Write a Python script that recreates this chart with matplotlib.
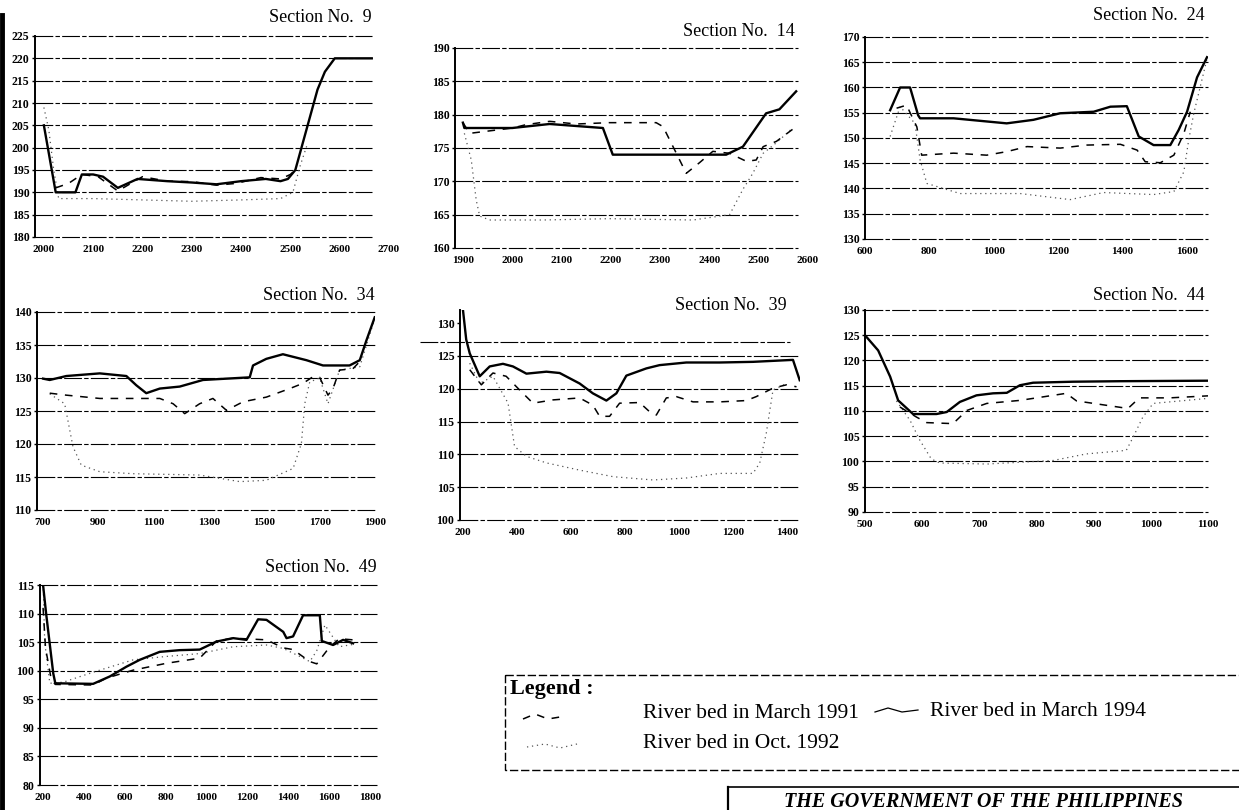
import matplotlib
matplotlib.use("Agg")
import matplotlib.pyplot as plt
from matplotlib.patches import Rectangle

plt.rcParams['font.family'] = ['Liberation Serif', 'DejaVu Serif']

# ---- data (distance, elevation) ----
# Section 9
s9_x_93 = [2000, 2024, 2064, 2077, 2100, 2120, 2150, 2190, 2250, 2300, 2350, 2400, 2450, 2480, 2495, 2510, 2525, 2540, 2555, 2570, 2590, 2665]
s9_y_93 = [205, 190, 190, 194, 194, 193.5, 191, 193, 192.5, 192.2, 191.8, 192.5, 193, 192.5, 193, 195, 201, 207, 213, 217, 220, 220]
s9_x_91 = [2024, 2050, 2077, 2110, 2150, 2200, 2250, 2300, 2350, 2390, 2440, 2480, 2500, 2510]
s9_y_91 = [191, 192, 194, 193.5, 190.3, 193.5, 192.5, 192.4, 191.6, 192, 193.3, 193, 194, 195]
s9_x_92 = [2000, 2010, 2020, 2030, 2100, 2200, 2300, 2400, 2480, 2505, 2520, 2535]
s9_y_92 = [209, 204, 195, 188.6, 188.6, 188.3, 188, 188.3, 188.6, 190, 196, 201]

# Section 14
s14_x_93 = [1900, 1903, 2000, 2076, 2184, 2204, 2326, 2434, 2468, 2515, 2542, 2576]
s14_y_93 = [178.8, 178, 178, 178.6, 178, 174, 174, 174, 175.2, 180.2, 180.8, 183.5]
s14_x_91 = [1900, 1914, 2001, 2028, 2076, 2130, 2197, 2292, 2306, 2333, 2353, 2380, 2407, 2441, 2475, 2495, 2509, 2536, 2576]
s14_y_91 = [178.8, 177.2, 178, 178.5, 179, 178.6, 178.8, 178.8, 178.2, 174.2, 171.2, 172.8, 174.5, 174.2, 173, 173.2, 175.2, 176, 178.2]
s14_x_92 = [1903, 1917, 1927, 1934, 1954, 2062, 2197, 2367, 2441, 2468, 2488, 2509, 2536, 2569]
s14_y_92 = [177.2, 173.2, 167.2, 164.8, 164.2, 164.2, 164.4, 164.2, 165, 168.8, 171.2, 174.2, 175.8, 178]

# Section 24
s24_x_93 = [678, 709, 740, 765, 771, 875, 1040, 1123, 1206, 1310, 1362, 1413, 1450, 1496, 1548, 1574, 1600, 1631, 1662]
s24_y_93 = [155.5, 160, 160, 154.5, 153.9, 153.9, 152.9, 153.6, 154.9, 155.2, 156.2, 156.3, 150.3, 148.6, 148.6, 151.6, 155.2, 162, 166]
s24_x_91 = [698, 729, 761, 776, 875, 978, 1040, 1103, 1206, 1289, 1393, 1445, 1470, 1517, 1559, 1590, 1610]
s24_y_91 = [155.9, 156.5, 152.2, 146.6, 147, 146.6, 147.3, 148.3, 148, 148.6, 148.75, 147.6, 145.3, 145.1, 146.6, 150.9, 155.2]
s24_x_92 = [678, 709, 755, 771, 792, 895, 1082, 1237, 1341, 1496, 1559, 1590, 1605, 1621, 1662]
s24_y_92 = [150.3, 156.2, 152.9, 145.7, 141, 139, 139, 137.8, 139.2, 138.8, 139.4, 143.3, 149.6, 154.9, 165.7]

# Section 34
s34_x_93 = [700, 724, 784, 905, 1001, 1037, 1073, 1122, 1194, 1278, 1447, 1459, 1507, 1567, 1652, 1712, 1808, 1845, 1869, 1899]
s34_y_93 = [129.9, 129.7, 130.3, 130.7, 130.3, 128.9, 127.7, 128.4, 128.7, 129.7, 130.1, 131.9, 132.9, 133.6, 132.7, 131.9, 131.9, 132.7, 135.7, 139.2]
s34_x_91 = [724, 784, 905, 1122, 1170, 1212, 1266, 1314, 1363, 1423, 1507, 1592, 1640, 1676, 1700, 1730, 1748, 1772, 1820, 1845]
s34_y_91 = [127.7, 127.4, 126.9, 126.9, 126.1, 124.6, 126.1, 126.9, 125.1, 126.4, 127.1, 128.4, 129.2, 130.2, 130.1, 127.4, 128.4, 131.2, 131.4, 132.5]
s34_x_92 = [724, 778, 808, 838, 905, 1025, 1266, 1411, 1507, 1604, 1634, 1646, 1664, 1700, 1730, 1772, 1845, 1899]
s34_y_92 = [127.6, 126.1, 119.6, 116.8, 115.8, 115.5, 115.3, 114.3, 114.5, 116.3, 120.1, 126.1, 129.4, 130, 126.1, 131.2, 131.7, 139]

# Section 39
s39_x_93 = [200, 212, 225, 262, 299, 348, 385, 435, 509, 558, 632, 681, 731, 768, 805, 879, 928, 1027, 1151, 1274, 1422, 1447]
s39_y_93 = [132, 127.5, 125.4, 121.9, 123.4, 123.8, 123.4, 122.3, 122.6, 122.4, 120.8, 119.3, 118.2, 119.3, 122, 123.1, 123.6, 124, 124, 124.1, 124.4, 121.3]
s39_x_91 = [225, 268, 311, 360, 410, 459, 533, 632, 681, 706, 743, 780, 854, 891, 916, 953, 990, 1052, 1151, 1249, 1286, 1348, 1398, 1435]
s39_y_91 = [122.9, 120.6, 122.4, 121.9, 119.8, 117.8, 118.3, 118.6, 117.5, 115.8, 115.8, 117.8, 117.9, 116.5, 116, 118.6, 118.8, 118, 118, 118.2, 118.8, 120.1, 120.6, 120.3]
s39_x_92 = [225, 262, 311, 367, 391, 435, 509, 632, 756, 904, 1027, 1151, 1274, 1299, 1323, 1348, 1398]
s39_y_92 = [123.9, 120.8, 121.9, 117.8, 111.2, 109.7, 108.7, 107.6, 106.6, 106.1, 106.4, 107.1, 107.1, 108.7, 113.2, 119.8, 120.8]

# Section 44
s44_x_93 = [500, 523, 544, 558, 584, 625, 643, 666, 695, 724, 748, 771, 794, 864, 946, 1100]
s44_y_93 = [125, 122, 116.8, 112.1, 109.4, 109.4, 109.8, 111.8, 113.1, 113.5, 113.6, 115.1, 115.6, 115.8, 115.9, 116]
s44_x_91 = [561, 590, 608, 654, 678, 713, 771, 829, 852, 870, 960, 980, 1033, 1100]
s44_y_91 = [110.8, 108.8, 107.7, 107.5, 110.1, 111.5, 112.1, 113.1, 113.5, 112, 110.5, 112.6, 112.6, 113]
s44_x_92 = [555, 579, 596, 616, 631, 713, 829, 887, 957, 969, 986, 1004, 1100]
s44_y_92 = [112, 108.1, 104.2, 100.5, 99.7, 99.5, 100.2, 101.5, 102.2, 104.8, 108.8, 111.5, 112.5]

# Section 49
s49_x_93 = [200, 215, 235, 250, 260, 445, 527, 608, 673, 771, 869, 967, 1049, 1131, 1196, 1253, 1294, 1376, 1392, 1424, 1473, 1555, 1565, 1620, 1669, 1718]
s49_y_93 = [115, 110, 104, 99.5, 97.8, 97.7, 99, 100.7, 101.9, 103.3, 103.6, 103.7, 105.1, 105.7, 105.4, 109, 108.9, 106.8, 105.7, 106, 109.7, 109.7, 105.2, 104.5, 105.4, 104.8]
s49_x_91 = [200, 212, 240, 260, 445, 510, 641, 804, 967, 1049, 1131, 1294, 1376, 1424, 1506, 1540, 1600, 1650, 1718]
s49_y_91 = [111, 104, 98.5, 97.6, 97.5, 98.7, 100.1, 101.3, 102.2, 105.2, 105.7, 105.4, 104, 103.7, 101.6, 101.2, 104, 105.6, 105.4]
s49_x_92 = [200, 208, 233, 300, 400, 478, 641, 804, 967, 1131, 1294, 1376, 1457, 1506, 1540, 1580, 1650, 1718]
s49_y_92 = [116, 105, 97.8, 98, 99.2, 100.1, 101.9, 102.5, 103, 104.2, 104.5, 103.9, 102.5, 101.6, 103.5, 108, 104.2, 104.6]

legend_labels = ["River bed in March 1991", "River bed in March 1994", "River bed in Oct. 1992"]

W, H = 1239, 810
fig = plt.figure(figsize=(W / 100, H / 100), dpi=100)
fig.patch.set_facecolor('white')

# full-page overlay in pixel units for the page furniture
bg = fig.add_axes([0, 0, 1, 1])
bg.set_xlim(0, W)
bg.set_ylim(H, 0)
bg.axis('off')

grid_style = dict(color='black', lw=0.8, linestyle=(0, (16, 2, 4, 2)))
st_93 = dict(color='black', lw=1.7, linestyle='-')
st_91 = dict(color='black', lw=1.1, linestyle=(0, (5, 5)))
st_92 = dict(color='#555555', lw=0.9, linestyle=(0, (1, 3)))


def panel(px, xlim, ylim, xticks, yticks, gridvals, grid_end, title, tpos, series):
    left, top, right, bottom = px
    ax = fig.add_axes([left / W, 1 - bottom / H, (right - left) / W, (bottom - top) / H])
    ax.set_xlim(*xlim)
    ax.set_ylim(*ylim)
    ax.patch.set_alpha(0)
    for s in ['top', 'right', 'bottom']:
        ax.spines[s].set_visible(False)
    ax.spines['left'].set_linewidth(1.4)
    ax.hlines(gridvals, xlim[0], grid_end, clip_on=False, **grid_style)
    for x, y, st in series:
        ax.plot(x, y, **st)
    ax.set_xticks(xticks)
    ax.set_yticks(yticks)
    ax.tick_params(axis='x', length=0, pad=6, labelsize=8)
    ax.tick_params(axis='y', length=2, width=1, pad=2, labelsize=8.5)
    for lab in ax.get_xticklabels() + ax.get_yticklabels():
        lab.set_fontweight('bold')
    bg.text(tpos[0], tpos[1], title, ha='right', va='center', fontsize=13)
    return ax


panel((35, 36, 389, 237), (1982, 2700), (180, 225), range(2000, 2701, 100), range(180, 226, 5),
      range(180, 226, 5), 2665, "Section No.  9", (372, 17),
      [(s9_x_92, s9_y_92, st_92), (s9_x_91, s9_y_91, st_91), (s9_x_93, s9_y_93, st_93)])
panel((455, 48, 808, 248), (1884, 2600), (160, 190), range(1900, 2601, 100), range(160, 191, 5),
      range(160, 191, 5), 2580, "Section No.  14", (795, 31),
      [(s14_x_92, s14_y_92, st_92), (s14_x_91, s14_y_91, st_91), (s14_x_93, s14_y_93, st_93)])
panel((865, 37, 1208, 239), (600, 1665), (130, 170), range(600, 1601, 200), range(130, 171, 5),
      range(130, 171, 5), 1665, "Section No.  24", (1205, 16),
      [(s24_x_92, s24_y_92, st_92), (s24_x_91, s24_y_91, st_91), (s24_x_93, s24_y_93, st_93)])
panel((37, 312, 375, 510), (678, 1900), (110, 140), range(700, 1901, 200), range(110, 141, 5),
      range(110, 141, 5), 1900, "Section No.  34", (375, 295),
      [(s34_x_92, s34_y_92, st_92), (s34_x_91, s34_y_91, st_91), (s34_x_93, s34_y_93, st_93)])
panel((460, 310, 800, 520), (189, 1448), (100, 132), range(200, 1401, 200), range(100, 131, 5),
      range(100, 126, 5), 1448, "Section No.  39", (787, 305),
      [(s39_x_92, s39_y_92, st_92), (s39_x_91, s39_y_91, st_91), (s39_x_93, s39_y_93, st_93)])
panel((865, 310, 1208, 512), (500, 1100), (90, 130), range(500, 1101, 100), range(90, 131, 5),
      range(90, 131, 5), 1100, "Section No.  44", (1205, 295),
      [(s44_x_92, s44_y_92, st_92), (s44_x_91, s44_y_91, st_91), (s44_x_93, s44_y_93, st_93)])
panel((40, 585, 377, 785), (185, 1835), (80, 115), range(200, 1801, 200), range(80, 116, 5),
      range(80, 116, 5), 1835, "Section No.  49", (377, 568),
      [(s49_x_92, s49_y_92, st_92), (s49_x_91, s49_y_91, st_91), (s49_x_93, s49_y_93, st_93)])

# stray line through section 39 from the scan
bg.plot([420, 790], [342, 342], color='black', lw=0.8, linestyle=(0, (16, 2, 4, 2)))

# scan border on the left
bg.plot([2, 2], [15, 810], color='black', lw=3.5)

# legend box
bg.add_patch(Rectangle((505, 675), 760, 95, fill=False, lw=1.0, edgecolor='black',
                       linestyle=(0, (6, 2)), clip_on=False))
bg.text(510, 689, "Legend :", fontsize=16, fontweight='bold', ha='left', va='center')
bg.plot([523, 535, 548, 560], [719, 714, 719, 717], **st_91)
bg.text(643, 713, legend_labels[0], fontsize=15.5, ha='left', va='center')
bg.plot([875, 888, 902, 918], [712, 708, 712, 710], color='black', lw=0.9)
bg.text(930, 711, legend_labels[1], fontsize=15.5, ha='left', va='center')
bg.plot([527, 545, 560, 577], [747, 744, 748, 744], **st_92)
bg.text(643, 744, legend_labels[2], fontsize=15.5, ha='left', va='center')

# title block at the bottom
bg.plot([728, 1239], [787, 787], color='black', lw=1.2)
bg.plot([728, 728], [787, 810], color='black', lw=1.6)
bg.text(983, 802, "THE GOVERNMENT OF THE PHILIPPINES", fontsize=14.5, fontweight='bold',
        fontstyle='italic', ha='center', va='center')

fig.savefig("out.png", dpi=100, facecolor='white')
